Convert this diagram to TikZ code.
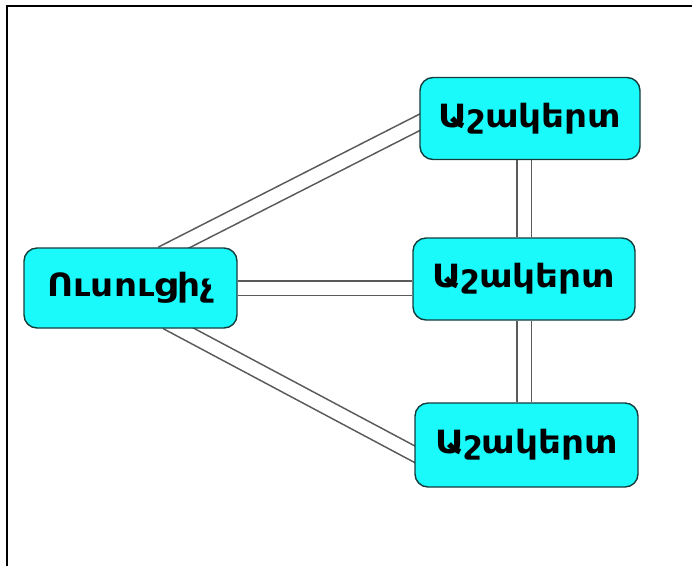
\documentclass[tikz,border=0pt]{standalone}
\usepackage{fontspec}
\usetikzlibrary{backgrounds}
\newfontfamily\armfont[Script=Armenian, FakeStretch=1.12]{DejaVu Sans}
\definecolor{boxfill}{RGB}{26,250,250}
\definecolor{boxline}{RGB}{20,60,60}
\definecolor{linkgray}{RGB}{90,90,90}
\tikzset{
  person/.style = {draw = boxline, fill = boxfill, line width = 1.4pt, rounded corners = 13pt,
    minimum width = 220pt, minimum height = 82pt, inner sep = 0pt,
    font = \armfont\bfseries\fontsize{32}{36}\selectfont},
  link/.style = {draw = linkgray, double = white, double distance = 13pt, line width = 1.6pt},
  slant/.style = {link, shorten <= -14pt, shorten >= -14pt}
}
\begin{document}
\begin{tikzpicture}[x=1pt, y=-1pt]
\useasboundingbox (0,0) rectangle (692,566);
\draw[line width = 1.4pt] (7,566) -- (7,6) -- (692,6);
\node[person, minimum width = 213pt, minimum height = 80pt] (teacher) at (130.5,288) {Ուսուցիչ};
\node[person] (s1) at (530,118.5) {Աշակերտ};
\node[person, minimum width = 222pt] (s2) at (524,279) {Աշակերտ};
\node[person, minimum width = 223pt, minimum height = 84pt] (s3) at (526.5,445) {Աշակերտ};
\begin{pgfonlayer}{background}
\draw[slant] (teacher.43) -- ([yshift=-4pt]s1.west);
\draw[slant] (teacher.-40) -- ([yshift=-9pt]s3.west);
\draw[link] (teacher.east) -- (teacher.east -| s2.west);
\draw[link] (s2.north) -- (s2.north |- s1.south);
\draw[link] (s2.south) -- (s2.south |- s3.north);
\end{pgfonlayer}
\end{tikzpicture}
\end{document}
